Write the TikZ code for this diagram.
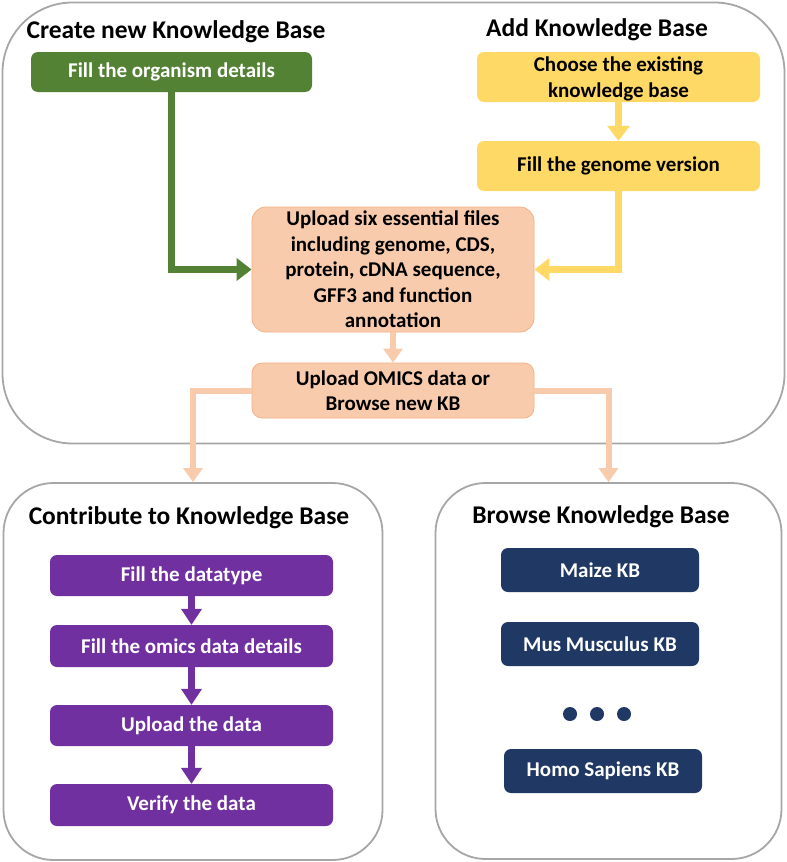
\documentclass[tikz,border=0pt]{standalone}
\usepackage{fontspec}
\setmainfont{Carlito}
\usetikzlibrary{arrows.meta}
\definecolor{cgreen}{HTML}{548235}
\definecolor{cyellow}{HTML}{FFD966}
\definecolor{csalmon}{HTML}{F8CBAD}
\definecolor{csalmonb}{HTML}{F4B183}
\definecolor{cpurple}{HTML}{7030A0}
\definecolor{cnavy}{HTML}{1F3864}
\definecolor{cframe}{HTML}{A6A6A6}
\tikzset{
  frame/.style={draw=cframe, line width=1.8pt, fill=white, rounded corners=#1},
  ttl/.style={font=\fontsize{25.5}{30}\selectfont\bfseries, inner sep=0pt},
  box/.style={rectangle, rounded corners=7pt, inner sep=2pt, align=center,
    font=\fontsize{21}{25.5}\selectfont\bfseries},
  gbox/.style={box, fill=cgreen, text=white},
  ybox/.style={box, fill=cyellow, text=black},
  sbox/.style={box, fill=csalmon, draw=csalmonb, line width=0.8pt, text=black, rounded corners=14pt},
  pbox/.style={box, fill=cpurple, text=white},
  nbox/.style={box, fill=cnavy, text=white},
  garrow/.style={draw=cgreen, line width=7pt, -{Triangle[length=15pt,width=22pt]}},
  yarrow/.style={draw=cyellow, line width=7pt, -{Triangle[length=15pt,width=22pt]}},
  sarrow/.style={draw=csalmon, line width=6pt, -{Triangle[length=14pt,width=19pt]}},
  parrow/.style={draw=cpurple, line width=7pt, -{Triangle[length=16pt,width=20pt]}},
}
\begin{document}
\begin{tikzpicture}[x=1pt,y=-1pt]
\useasboundingbox (0,0) rectangle (787,862);
% frames
\node[frame=70pt, minimum width=782pt, minimum height=441pt] (top) at (393.5,223) {};
\node[frame=50pt, minimum width=379pt, minimum height=377pt] (contrib) at (193,671.5) {};
\node[frame=50pt, minimum width=346pt, minimum height=376pt] (browse) at (608.5,671) {};
% titles
\node[ttl] (t1) at (176,32) {Create new Knowledge Base};
\node[ttl] (t2) at (597,30) {Add Knowledge Base};
\node[ttl] (t3) at (189,518) {Contribute to Knowledge Base};
\node[ttl] (t4) at (601,517) {Browse Knowledge Base};
% top section
\node[gbox, minimum width=281pt, minimum height=40pt] (org) at (171.5,72) {Fill the organism details};
\node[ybox, minimum width=283pt, minimum height=50pt, text depth=-1pt] (choose) at (618.5,77) {Choose the existing\\knowledge base};
\node[ybox, minimum width=283pt, minimum height=50pt] (genome) at (618.5,166) {Fill the genome version};
\node[sbox, minimum width=282pt, minimum height=125pt] (upload) at (393,269.5) {Upload six essential files\\including genome, CDS,\\protein, cDNA sequence,\\GFF3 and function\\annotation};
\node[sbox, rounded corners=10pt, minimum width=282pt, minimum height=55pt] (omics) at (393,390.5) {Upload OMICS data or\\Browse new KB};
% contribute
\node[pbox, minimum width=283pt, minimum height=41pt] (p1) at (191.5,575.5) {Fill the datatype};
\node[pbox, minimum width=283pt, minimum height=42pt] (p2) at (191.5,646) {Fill the omics data details};
\node[pbox, minimum width=283pt, minimum height=41pt] (p3) at (191.5,725.5) {Upload the data};
\node[pbox, minimum width=283pt, minimum height=42pt] (p4) at (191.5,805) {Verify the data};
% browse
\node[nbox, minimum width=198pt, minimum height=44pt] (maize) at (600,570) {Maize KB};
\node[nbox, minimum width=198pt, minimum height=44pt] (mus) at (600,644) {Mus Musculus KB};
\node[nbox, minimum width=198pt, minimum height=44pt] (homo) at (603,771) {Homo Sapiens KB};
\fill[cnavy] (570,714) circle (7pt) (597,714) circle (7pt) (624,714) circle (7pt);
% connectors
\draw[garrow] (org.south) |- (upload.west);
\draw[yarrow] (choose.south) -- (genome.north);
\draw[yarrow] (genome.south) |- (upload.east);
\draw[sarrow] (upload.south) -- (omics.north);
\draw[sarrow] (omics.west) -| (contrib.north);
\draw[sarrow] (omics.east) -| (browse.north);
\draw[parrow] (p1.south) -- (p2.north);
\draw[parrow] (p2.south) -- (p3.north);
\draw[parrow] (p3.south) -- (p4.north);
\end{tikzpicture}
\end{document}
